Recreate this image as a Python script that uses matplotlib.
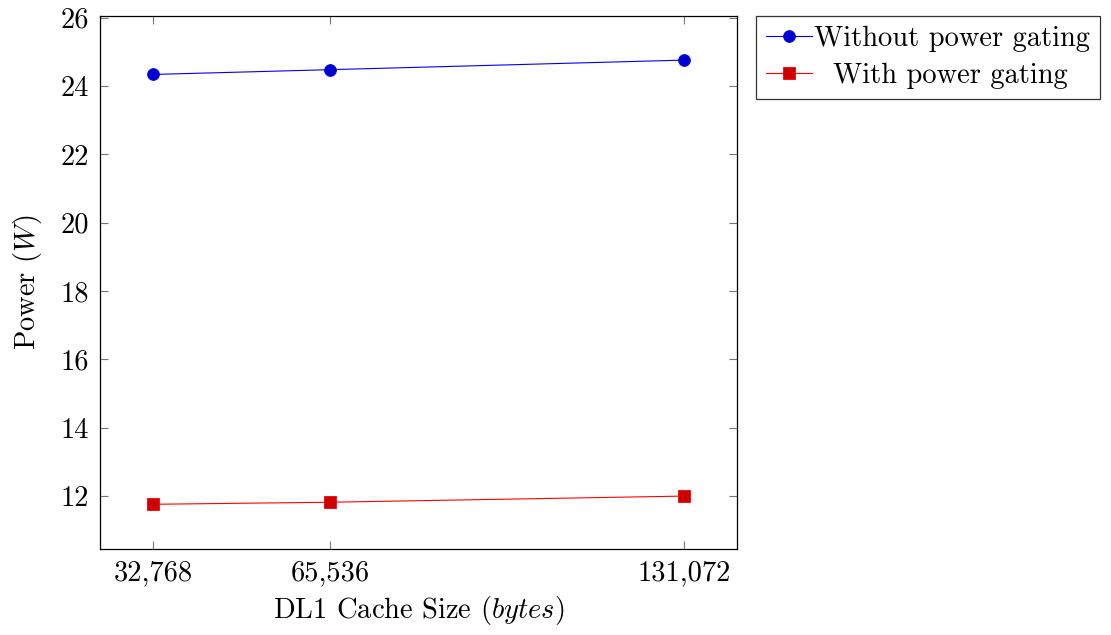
import matplotlib
matplotlib.use("Agg")
import matplotlib.pyplot as plt
from matplotlib.ticker import FuncFormatter

plt.rcParams.update({
    "font.family": "serif",
    "font.serif": ["cmr10"],
    "mathtext.fontset": "cm",
    "axes.formatter.use_mathtext": True,
    "font.size": 20.5,
})

cache_sizes = [32768, 65536, 131072]
power_no_gating = [24.34, 24.48, 24.76]
power_gating = [11.76, 11.82, 12.00]
y_ticks = [12, 14, 16, 18, 20, 22, 24, 26]

fig = plt.figure(figsize=(11.11, 6.35), dpi=100)
ax = fig.add_axes([0.09, 0.1359, 0.5734, 0.8394])

ax.plot(cache_sizes, power_no_gating, color="blue", linewidth=0.8,
        marker="o", markersize=8.5, markerfacecolor="#0000cc",
        markeredgecolor="blue", markeredgewidth=0.6,
        label="Without power gating")
ax.plot(cache_sizes, power_gating, color="red", linewidth=0.8,
        marker="s", markersize=8, markerfacecolor="#cc0000",
        markeredgecolor="red", markeredgewidth=0.6,
        label="  With power gating")

span = cache_sizes[-1] - cache_sizes[0]
ax.set_xlim(cache_sizes[0] - 0.1 * span, cache_sizes[-1] + 0.1 * span)
ylo = min(power_gating); yhi = max(power_no_gating)
ax.set_ylim(ylo - 0.1 * (yhi - ylo), yhi + 0.1 * (yhi - ylo))

ax.set_xticks(cache_sizes)
ax.xaxis.set_major_formatter(FuncFormatter(lambda v, p: f"{int(v):,}"))
ax.set_yticks(y_ticks)
ax.set_yticklabels([str(t) for t in y_ticks])
ax.tick_params(direction="in", top=True, right=True, length=6,
               width=0.8, color="#777777", labelsize=20.5, pad=8)
for s in ax.spines.values():
    s.set_linewidth(0.9)

ax.set_xlabel(r"DL1 Cache Size ($bytes$)", fontsize=20.5, labelpad=6)
ax.set_ylabel(r"Power ($W$)", fontsize=20.5, labelpad=12)

leg = ax.legend(loc="upper left", bbox_to_anchor=(756 / 1111, 1 - 16 / 635),
                bbox_transform=fig.transFigure, fontsize=20.5, frameon=True,
                fancybox=False, edgecolor="black", handlelength=1.6,
                handletextpad=0.1, borderpad=0.35, labelspacing=0.35,
                borderaxespad=0)
leg.get_frame().set_linewidth(0.9)

plt.savefig("out.png", dpi=100)
plt.close()
